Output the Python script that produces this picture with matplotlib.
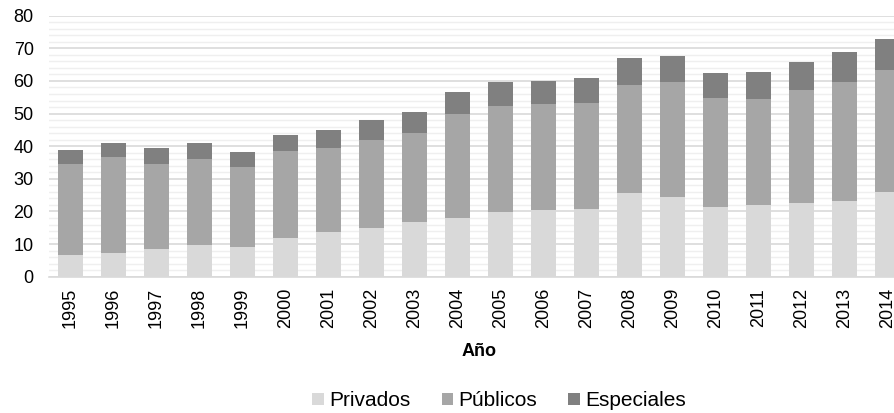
import numpy as np
import matplotlib.pyplot as plt

plt.rcParams['font.family'] = ['Liberation Sans', 'DejaVu Sans']

anios = ['1995', '1996', '1997', '1998', '1999', '2000', '2001', '2002', '2003', '2004',
         '2005', '2006', '2007', '2008', '2009', '2010', '2011', '2012', '2013', '2014']
privados = [6.7, 7.3, 8.4, 9.6, 9.1, 12.0, 13.7, 14.9, 16.9, 18.0,
            19.8, 20.3, 20.8, 25.7, 24.5, 21.4, 22.0, 22.7, 23.1, 25.9]
publicos = [27.8, 29.5, 26.1, 26.5, 24.5, 26.4, 25.7, 27.0, 27.2, 31.8,
            32.5, 32.6, 32.4, 33.2, 35.2, 33.3, 32.6, 34.4, 36.7, 37.5]
especiales = [4.4, 4.2, 4.9, 4.8, 4.6, 4.9, 5.5, 6.1, 6.3, 6.7,
              7.5, 7.2, 7.7, 8.2, 7.9, 7.6, 8.0, 8.6, 9.1, 9.4]

W, H = 894, 413
fig = plt.figure(figsize=(W / 100, H / 100), dpi=100)
# el área del gráfico sigue más allá del borde derecho, como en la imagen original
ax = fig.add_axes([49 / W, (H - 276.7) / H, 860 / W, 261 / H])

x = np.arange(len(anios))
priv = np.array(privados)
pub = np.array(publicos)
esp = np.array(especiales)
ancho = 0.58
ax.bar(x, priv, ancho, color='#d9d9d9', label='Privados', zorder=3)
ax.bar(x, pub, ancho, bottom=priv, color='#a6a6a6', label='Públicos', zorder=3)
ax.bar(x, esp, ancho, bottom=priv + pub, color='#808080', label='Especiales', zorder=3)

ax.set_xlim(-0.5, len(anios) - 0.5)
ax.set_ylim(0, 80)
ax.set_yticks(range(0, 81, 10))
ax.set_yticks(range(0, 81, 2), minor=True)
ax.grid(axis='y', which='major', color='#d9d9d9', linewidth=1.2, zorder=0)
ax.grid(axis='y', which='minor', color='#efefef', linewidth=1.0, zorder=0)
ax.set_xticks(x)
ax.set_xticklabels(anios, rotation=90, fontsize=13)
ax.tick_params(axis='y', which='both', length=0, pad=11, labelsize=13)
ax.tick_params(axis='x', length=0, pad=8)
for s in ['top', 'right', 'left']:
    ax.spines[s].set_visible(False)
ax.spines['bottom'].set_color('#d9d9d9')
ax.spines['bottom'].set_linewidth(1.2)
ax.set_xlabel('Año', fontsize=13, fontweight='bold', labelpad=11)

fig.legend(loc='center', bbox_to_anchor=(499 / W, 1 - 401 / H), ncol=3, frameon=False,
           fontsize=15, handlelength=0.55, handleheight=0.55, handletextpad=0.25,
           columnspacing=1.5)

fig.savefig('out.png', dpi=100)
